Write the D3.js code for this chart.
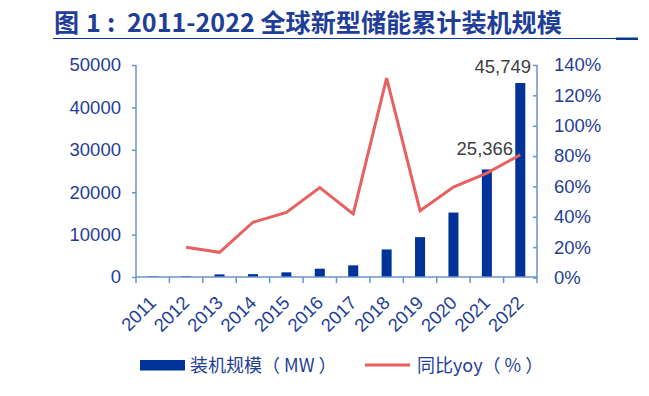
<!DOCTYPE html>
<html><head><meta charset="utf-8">
<script src="https://cdn.jsdelivr.net/npm/d3@7"></script>
<style>
html,body{margin:0;padding:0;background:#fff;}
svg{display:block;}
</style></head>
<body>
<svg id="c" width="649" height="396"></svg>
<script>
const years = ["2011","2012","2013","2014","2015","2016","2017","2018","2019","2020","2021","2022"];
const capacity = [150, 180, 620, 680, 1100, 1960, 2750, 6500, 9400, 15200, 25366, 45749];
const yoy = [null, 20.0, 16.6, 36.4, 42.9, 59.2, 41.9, 131.3, 44.0, 59.6, 68.8, 80.9];
const leftTicks = [0, 10000, 20000, 30000, 40000, 50000];
const rightTicks = [0, 20, 40, 60, 80, 100, 120, 140];
const labeled = ["2021", "2022"];
const titleParts = ["图", "1", ":", "2011-2022 全球新型储能累计装机规模"];
const legendNames = ["装机规模（ MW ）", "同比yoy（ % ）"];

const svg = d3.select("#c");
const blue = "#1F3E97", bar = "#003399", red = "#E8605F", axisC = "#6A92CC";
const latin = "'Liberation Sans', Arial, sans-serif";
const cjk = "'Noto Sans CJK SC', 'Liberation Sans', sans-serif";

// Title
const tg = svg.append("g").attr("fill", blue).attr("font-family", cjk).attr("font-weight", "bold");
const tMain = tg.append("text").attr("x", 127).attr("y", 32).attr("font-size", 24).text(titleParts[3]);
const fs = 24 * 435 / tMain.node().getComputedTextLength();
tMain.attr("font-size", fs);
const tPos = [54, 86, 107];
titleParts.slice(0, 3).forEach((s, i) => {
  tg.append("text").attr("x", tPos[i]).attr("y", 32).attr("font-size", fs).text(s);
});
svg.append("line").attr("x1", 53).attr("x2", 638).attr("y1", 38.5).attr("y2", 38.5)
  .attr("stroke", "#0A3A94").attr("stroke-width", 1);
svg.append("rect").attr("x", 616).attr("y", 37.5).attr("width", 22).attr("height", 2.5).attr("fill", "#0A3A94");

const x0 = 136, x1 = 537, yTop = 65, yBot = 277;
const x = d3.scaleBand().domain(years).range([x0, x1]).paddingInner(0.7).paddingOuter(0.35);
const yL = d3.scaleLinear().domain([0, 50000]).range([yBot, yTop]);
const yR = d3.scaleLinear().domain([0, 140]).range([yBot + 0.5, yTop]);
const cx = d => x(d) + x.bandwidth() / 2;

// Bars
svg.append("g").selectAll("rect").data(years).join("rect")
  .attr("x", d => x(d)).attr("width", x.bandwidth())
  .attr("y", (d, i) => yL(capacity[i])).attr("height", (d, i) => yBot - yL(capacity[i]))
  .attr("fill", bar);

// Left axis
const gL = svg.append("g").attr("transform", `translate(${x0},0)`)
  .call(d3.axisLeft(yL).tickValues(leftTicks).tickSize(4).tickPadding(11).tickFormat(d3.format("d")));
// Right axis
const gR = svg.append("g").attr("transform", `translate(${x1},0)`)
  .call(d3.axisRight(yR).tickValues(rightTicks).tickSize(0).tickPadding(17).tickFormat(d => d + "%"));
gR.selectAll(".tick").append("line").attr("x1", -4).attr("x2", 0);
// X axis
const step = x.step();
const gX = svg.append("g").attr("transform", `translate(0,${yBot})`)
  .call(d3.axisBottom(x).tickSize(0).tickPadding(0));
gX.selectAll(".tick").append("line").attr("x1", -step/2).attr("x2", -step/2).attr("y1", 0).attr("y2", 6);
gX.append("line").attr("x1", x1).attr("x2", x1).attr("y1", 0).attr("y2", 6);
gX.selectAll(".tick text").attr("text-anchor", "end").attr("dy", 0).attr("y", 0)
  .attr("transform", "translate(4.5,27) rotate(-45)");

[gL, gR, gX].forEach(g => {
  g.selectAll("path.domain").attr("stroke", axisC).attr("stroke-width", 1.5);
  g.selectAll("line").attr("stroke", axisC).attr("stroke-width", 1.5);
  g.selectAll("text").attr("fill", blue).attr("font-family", latin).attr("font-size", 18.5);
});
gL.select("path.domain").attr("d", `M0,${yTop}V${yBot}`);
gR.select("path.domain").attr("d", `M0,${yTop}V${yBot}`);
gX.select("path.domain").attr("d", `M${x0},0H${x1}`);

// Line
const pts = years.map((d, i) => [d, yoy[i]]).filter(p => p[1] != null);
svg.append("path").datum(pts)
  .attr("d", d3.line().x(p => cx(p[0])).y(p => yR(p[1])))
  .attr("fill", "none").attr("stroke", red).attr("stroke-width", 3).attr("stroke-linejoin", "miter");

// Data labels
const labOff = {"2021": [-2, -14], "2022": [-17.5, -10]};
svg.append("g").selectAll("text").data(labeled).join("text")
  .attr("x", d => cx(d) + labOff[d][0])
  .attr("y", d => yL(capacity[years.indexOf(d)]) + labOff[d][1])
  .attr("text-anchor", "middle").attr("fill", "#404040")
  .attr("font-family", latin).attr("font-size", 18.5)
  .text(d => d3.format(",")(capacity[years.indexOf(d)]));

// Legend
const lg = svg.append("g");
lg.append("rect").attr("x", 140).attr("y", 360).attr("width", 45).attr("height", 10.5).attr("fill", bar);
const l1 = lg.append("text").attr("x", 190).attr("y", 372).attr("fill", blue).attr("font-family", cjk)
  .attr("font-size", 18).text(legendNames[0]);
lg.append("line").attr("x1", 365).attr("x2", 410).attr("y1", 365).attr("y2", 365)
  .attr("stroke", red).attr("stroke-width", 3);
const l2 = lg.append("text").attr("x", 417).attr("y", 372).attr("fill", blue).attr("font-family", cjk)
  .attr("font-size", 18).text(legendNames[1]);
</script>
</body></html>
